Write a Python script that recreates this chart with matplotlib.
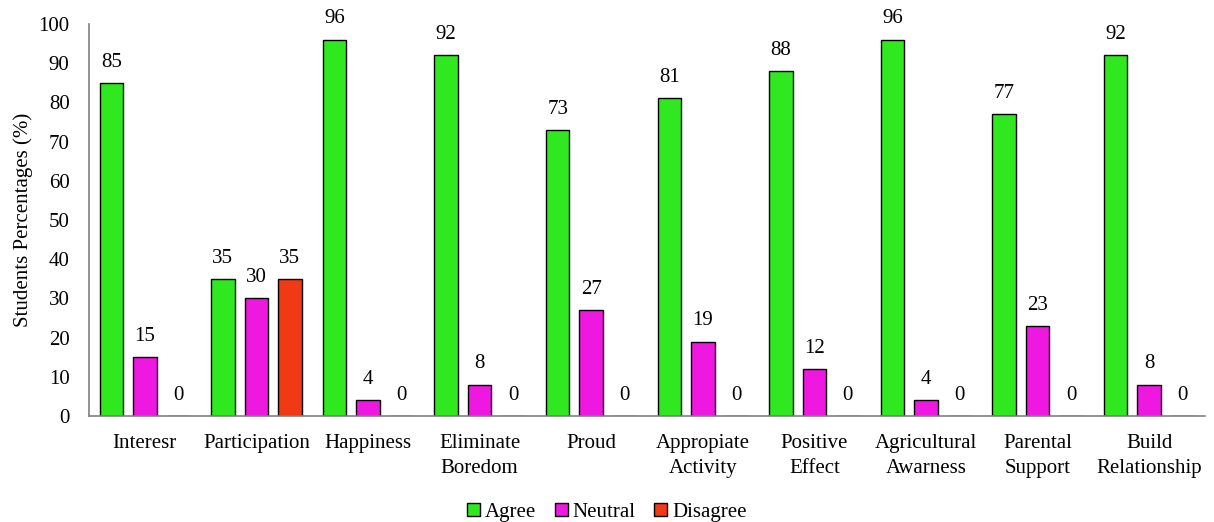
import numpy as np
import matplotlib.pyplot as plt

plt.rcParams['font.family'] = 'serif'
plt.rcParams['font.serif'] = ['Liberation Serif', 'DejaVu Serif']

categories = ["Interesr", "Participation", "Happiness", "Eliminate\nBoredom", "Proud",
              "Appropiate\nActivity", "Positive\nEffect", "Agricultural\nAwarness",
              "Parental\nSupport", "Build\nRelationship"]
agree = [85, 35, 96, 92, 73, 81, 88, 96, 77, 92]
neutral = [15, 30, 4, 8, 27, 19, 12, 4, 23, 8]
disagree = [0, 35, 0, 0, 0, 0, 0, 0, 0, 0]

series = [("Agree", agree, "#30E820"), ("Neutral", neutral, "#EE18E0"), ("Disagree", disagree, "#F03A16")]

fig = plt.figure(figsize=(12.14, 5.22), dpi=100)
ax = fig.add_axes([0.0733, 0.203, 0.9193, 0.751])

x = np.arange(len(categories))
width = 0.21
fs = 15
for i, (name, vals, color) in enumerate(series):
    pos = x + (i - 1) * 0.3
    ax.bar(pos, vals, width, color=color, edgecolor="black", linewidth=1.0, label=name)
    for p, v in zip(pos, vals):
        ax.text(p, v + 5.3, str(v), ha="center", va="center", fontsize=fs)

ax.set_xlim(-0.5, len(categories) - 0.5)
ax.set_ylim(0, 100)
ax.set_yticks(range(0, 101, 10))
ax.set_xticks(x)
ax.set_xticklabels(categories, fontsize=fs, linespacing=1.4)
ax.tick_params(axis="y", labelsize=fs, length=0, pad=14)
ax.tick_params(axis="x", length=0, pad=13)
ax.set_ylabel("Students Percentages (%)", fontsize=fs, labelpad=4)

for s in ["top", "right"]:
    ax.spines[s].set_visible(False)
for s in ["left", "bottom"]:
    ax.spines[s].set_color("#808080")
    ax.spines[s].set_linewidth(1.2)

fig.legend(loc="lower center", bbox_to_anchor=(0.5, -0.035), ncol=3, frameon=False,
           fontsize=fs, handlelength=0.6, handleheight=0.6, handletextpad=0.25, columnspacing=0.9)

fig.savefig("out.png", dpi=100)
